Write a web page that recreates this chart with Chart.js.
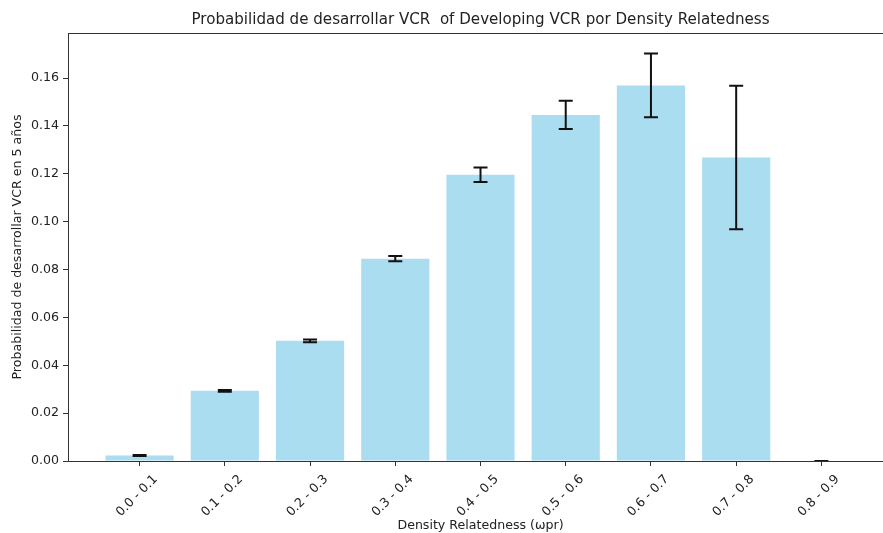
<!DOCTYPE html>
<html>
<head>
<meta charset="utf-8">
<script src="https://cdn.jsdelivr.net/npm/chart.js@4/dist/chart.umd.min.js"></script>
<style>
  html, body { margin: 0; padding: 0; background: #fff; overflow: hidden; }
  #wrap { width: 883px; height: 533px; overflow: hidden; }
  canvas { display: block; }
</style>
</head>
<body>
<div id="wrap"><canvas id="chart" width="893" height="533"></canvas></div>
<script>
// Density relatedness bins
const categories = ['0.0 - 0.1', '0.1 - 0.2', '0.2 - 0.3', '0.3 - 0.4', '0.4 - 0.5',
                    '0.5 - 0.6', '0.6 - 0.7', '0.7 - 0.8', '0.8 - 0.9'];
// Probability of developing VCR within 5 years, per bin
const probabilities = [0.0023, 0.0293, 0.0502, 0.0845, 0.1196, 0.1446, 0.1569, 0.1268, 0.0];
// Error half-widths per bin
const errors = [0.0002, 0.0004, 0.0006, 0.0011, 0.0030, 0.0059, 0.0133, 0.0300, 0.0];
// Y axis tick values
const yTicks = [0, 0.02, 0.04, 0.06, 0.08, 0.10, 0.12, 0.14, 0.16];

const FONT = "'DejaVu Sans', sans-serif";
const TEXT = '#222';
const SPINE = '#333';
const SMALL = 12.6;

// Full rectangular frame around the plotting area
const framePlugin = {
  id: 'frame',
  afterDraw(chart) {
    const { ctx, chartArea: a } = chart;
    ctx.save();
    ctx.strokeStyle = SPINE;
    ctx.lineWidth = 1;
    ctx.strokeRect(Math.round(a.left) + 0.5, Math.round(a.top) + 0.5,
                   Math.round(a.right - a.left), Math.round(a.bottom - a.top));
    ctx.restore();
  }
};

// Vertical error bars with caps, centred on each bar
const errorBarPlugin = {
  id: 'errorBars',
  afterDatasetsDraw(chart) {
    const { ctx, scales: { y } } = chart;
    const meta = chart.getDatasetMeta(0);
    ctx.save();
    ctx.strokeStyle = '#111';
    ctx.lineWidth = 2;
    meta.data.forEach((bar, i) => {
      const v = probabilities[i], e = errors[i];
      const yTop = y.getPixelForValue(v + e);
      const yBot = y.getPixelForValue(v - e);
      const x = bar.x;
      const cap = 7;
      ctx.beginPath();
      ctx.moveTo(x, yTop); ctx.lineTo(x, yBot);
      ctx.moveTo(x - cap, yTop); ctx.lineTo(x + cap, yTop);
      ctx.moveTo(x - cap, yBot); ctx.lineTo(x + cap, yBot);
      ctx.stroke();
    });
    ctx.restore();
  }
};

new Chart(document.getElementById('chart'), {
  type: 'bar',
  data: {
    datasets: [{
      data: categories.map((c, i) => ({ x: i, y: probabilities[i] })),
      backgroundColor: 'rgba(135, 206, 235, 0.7)',
      borderWidth: 0,
      barPercentage: 0.8,
      categoryPercentage: 1.0
    }]
  },
  options: {
    responsive: false,
    animation: false,
    devicePixelRatio: 1,
    layout: { padding: 0 },
    plugins: {
      legend: { display: false },
      tooltip: { enabled: false },
      title: {
        display: true,
        fullSize: false,
        text: 'Probabilidad de desarrollar VCR  of Developing VCR por Density Relatedness',
        color: TEXT,
        font: { family: FONT, size: 15.1, weight: 'normal' },
        padding: { top: 11.4, bottom: 3.5 }
      }
    },
    scales: {
      x: {
        type: 'linear',
        min: -0.84,
        max: 8.84,
        offset: false,
        afterBuildTicks(scale) { scale.ticks = categories.map((c, i) => ({ value: i })); },
        afterFit(scale) { scale.height = 72; },
        grid: { display: true, drawOnChartArea: false, drawTicks: true, tickLength: 5, color: SPINE, offset: false },
        border: { display: true, color: SPINE, width: 1 },
        ticks: {
          autoSkip: false,
          maxRotation: 45,
          minRotation: 45,
          padding: 6,
          labelOffset: 16,
          color: TEXT,
          font: { family: FONT, size: SMALL },
          callback: (v) => categories[v] ?? ''
        },
        title: {
          display: true,
          text: 'Density Relatedness (ωpr)',
          color: TEXT,
          font: { family: FONT, size: SMALL },
          padding: { top: 0, bottom: 0 }
        }
      },
      y: {
        min: 0,
        max: 0.1788,
        afterBuildTicks(scale) { scale.ticks = yTicks.map(v => ({ value: v })); },
        afterFit(scale) { scale.width = 68; },
        grid: { display: true, drawOnChartArea: false, drawTicks: true, tickLength: 5, color: SPINE },
        border: { display: true, color: SPINE, width: 1 },
        ticks: {
          padding: 4,
          color: TEXT,
          font: { family: FONT, size: SMALL },
          callback: (v) => v.toFixed(2)
        },
        title: {
          display: true,
          text: 'Probabilidad de desarrollar VCR en 5 años',
          color: TEXT,
          font: { family: FONT, size: SMALL },
          padding: { top: 10, bottom: 0 }
        }
      }
    }
  },
  plugins: [framePlugin, errorBarPlugin]
});
</script>
</body>
</html>
